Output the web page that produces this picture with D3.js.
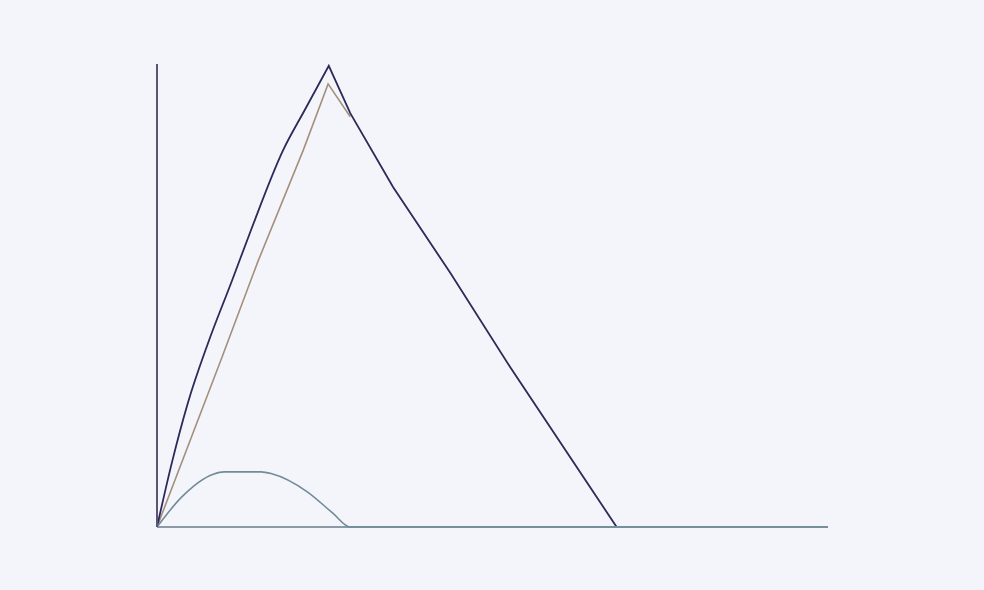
<!DOCTYPE html>
<html>
<head>
<meta charset="utf-8">
<script src="https://cdn.jsdelivr.net/npm/d3@7"></script>
<style>
  html, body { margin: 0; padding: 0; background: #f4f5fa; }
  svg { display: block; }
</style>
</head>
<body>
<svg id="chart" width="984" height="590"></svg>
<script>
// Series data (x: time 0..100, y: value 0..100)
const navyX  = [0, 2.2, 4.6, 7.6, 11.2, 14.0, 18.8, 22.0, 25.6, 28.8, 35.2, 43.7, 52.6, 68.5];
const navyY  = [0, 13.8, 26.8, 39.7, 53.3, 64.1, 81.4, 90.0, 99.6, 89.4, 73.4, 54.9, 34.6, 0];
const brownX = [0, 9.7, 15.0, 21.8, 25.5, 28.8];
const brownY = [0, 36.7, 57.2, 81.4, 95.7, 88.6];
const tealX  = [0, 3.7, 8.4, 10.0, 15.5, 17.1, 22.4, 26.2, 28.8, 100];
const tealY  = [0, 6.5, 11.4, 11.9, 11.9, 11.5, 7.6, 3.0, 0, 0];

const svg = d3.select("#chart");
const x = d3.scaleLinear().domain([0, 100]).range([157, 828]);
const y = d3.scaleLinear().domain([0, 100]).range([527, 64]);

const zip = (xs, ys) => xs.map((v, i) => [v, ys[i]]);
const line = d3.line().x(d => x(d[0])).y(d => y(d[1]));
const smooth = d3.line().x(d => x(d[0])).y(d => y(d[1])).curve(d3.curveMonotoneX);

svg.append("path").datum(zip(brownX, brownY))
  .attr("d", line).attr("fill", "none")
  .attr("stroke", "#a48f7e").attr("stroke-width", 1.6);

// navy: smooth rise up to peak, straight fall
const navy = zip(navyX, navyY);
const peak = d3.maxIndex(navyY);
svg.append("path")
  .attr("d", smooth(navy.slice(0, peak + 1)) + line(navy.slice(peak)).replace(/^M/, "L"))
  .attr("fill", "none")
  .attr("stroke", "#2b2a58").attr("stroke-width", 1.8)
  .attr("stroke-linejoin", "miter");

// baseline (teal series runs along it)
svg.append("line")
  .attr("x1", x(0)).attr("x2", x(100))
  .attr("y1", y(0)).attr("y2", y(0))
  .attr("stroke", "#8c9aa6").attr("stroke-width", 1.8);

svg.append("path").datum(zip(tealX, tealY))
  .attr("d", smooth).attr("fill", "none")
  .attr("stroke", "#6f8c98").attr("stroke-width", 1.6);

// vertical axis
svg.append("line")
  .attr("x1", x(0)).attr("x2", x(0))
  .attr("y1", y(0)).attr("y2", y(100))
  .attr("stroke", "#5c5474").attr("stroke-width", 2);
</script>
</body>
</html>
